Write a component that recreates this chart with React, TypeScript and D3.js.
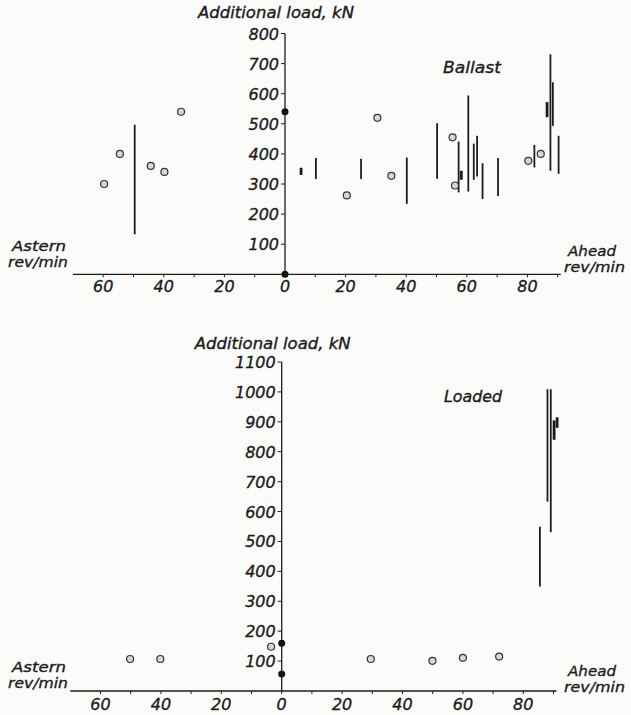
import React, { useEffect, useRef } from 'react';
import * as d3 from 'd3';

// rev/min (negative = astern), additional load kN
const ballastCircles = [
  [-59.7, 300], [-54.5, 400], [-44.3, 360], [-39.8, 340], [-34.3, 540],
  [20.4, 262], [30.5, 520], [35.1, 327], [55.3, 455], [56.1, 295],
  [80.3, 377], [84.4, 400],
];
const ballastBars = [
  [-49.6, 133, 497], [5.3, 330, 354], [10.2, 317, 386], [25.1, 317, 384],
  [40.2, 234, 388], [50.2, 317, 502], [57.3, 272, 441], [58.2, 314, 344],
  [60.5, 275, 594], [62.3, 314, 434], [63.4, 325, 460], [65.2, 250, 369],
  [70.3, 260, 386], [82.3, 355, 430], [86.5, 522, 572], [87.6, 344, 731],
  [88.4, 493, 638], [90.3, 334, 460],
];
const ballastDots = [[0, 0], [0, 540]];

const loadedCircles = [
  [-50.2, 107], [-40.2, 107], [-3.5, 148], [29.5, 107], [49.9, 101],
  [60, 111], [72, 115],
];
const loadedBars = [
  [85.5, 349, 549], [88, 633, 1009], [89.1, 531, 1009], [90.2, 840, 905], [91.2, 880, 915],
];
const loadedDots = [[0, 57], [0, 160]];

const xTickLabels = [-60, -40, -20, 0, 20, 40, 60, 80];

const panels = [
  {
    name: 'Ballast', circles: ballastCircles, bars: ballastBars, dots: ballastDots,
    x0: 285, pxPerRev: 3.03, yZero: 274.3, yTop: 33.5, yMax: 800,
    titleY: 18, nameX: 443, nameY: 73,
    asternY: 251, aheadY: 256, tickLabelY: 292,
  },
  {
    name: 'Loaded', circles: loadedCircles, bars: loadedBars, dots: loadedDots,
    x0: 281.7, pxPerRev: 3.02, yZero: 691, yTop: 362, yMax: 1100,
    titleY: 349, nameX: 444, nameY: 402,
    asternY: 672, aheadY: 676, tickLabelY: 710,
  },
];

const ink = '#1c1c1c';
const font = '"DejaVu Sans", sans-serif';

export default function App() {
  const ref = useRef<SVGSVGElement>(null);

  useEffect(() => {
    const svg = d3.select(ref.current);
    svg.selectAll('*').remove();

    svg.append('rect').attr('width', 631).attr('height', 715).attr('fill', '#fbfbfa');

    panels.forEach(p => {
      const x = d3.scaleLinear().domain([0, 90]).range([p.x0, p.x0 + 90 * p.pxPerRev]);
      const y = d3.scaleLinear().domain([0, p.yMax]).range([p.yZero, p.yTop]);
      const g = svg.append('g');

      const text = (tx: number, ty: number, s: string, size: number, anchor = 'start', len = 0) => {
        const t = g.append('text')
          .attr('x', tx).attr('y', ty)
          .attr('font-family', font).attr('font-style', 'italic')
          .attr('font-size', size).attr('fill', ink)
          .attr('stroke', ink).attr('stroke-width', 0.35)
          .attr('text-anchor', anchor)
          .text(s);
        if (len) t.attr('textLength', len).attr('lengthAdjust', 'spacingAndGlyphs');
        return t;
      };

      // x axis
      g.append('line')
        .attr('x1', x(-70)).attr('x2', x(91))
        .attr('y1', y(0)).attr('y2', y(0))
        .attr('stroke', ink).attr('stroke-width', 1.3);
      d3.range(-60, 91, 10).forEach(t => {
        g.append('line')
          .attr('x1', x(t)).attr('x2', x(t))
          .attr('y1', y(0)).attr('y2', y(0) + 3)
          .attr('stroke', ink).attr('stroke-width', 1);
      });
      xTickLabels.forEach(t => {
        text(x(t), p.tickLabelY, String(Math.abs(t)), 16, 'middle');
      });

      // y axis
      g.append('line')
        .attr('x1', x(0)).attr('x2', x(0))
        .attr('y1', y(0)).attr('y2', y(p.yMax))
        .attr('stroke', ink).attr('stroke-width', 1.3);
      d3.range(100, p.yMax + 1, 100).forEach(t => {
        g.append('line')
          .attr('x1', x(0) - 4).attr('x2', x(0))
          .attr('y1', y(t)).attr('y2', y(t))
          .attr('stroke', ink).attr('stroke-width', 1);
        text(x(0) - 6, y(t) + 6, String(t), 16, 'end');
      });

      text(x(0) - 9, p.titleY, 'Additional load, kN', 15, 'middle', 156);
      text(p.nameX, p.nameY, p.name, 15, 'start', 58);
      text(12, p.asternY, 'Astern', 14, 'start', 54);
      text(8, p.asternY + 16, 'rev/min', 14, 'start', 60);
      text(568, p.aheadY, 'Ahead', 14, 'start', 48);
      text(564, p.aheadY + 16, 'rev/min', 14, 'start', 61);

      // vertical range bars (short ones drawn heavier, as in the original)
      g.selectAll('line.bar').data(p.bars).enter().append('line')
        .attr('class', 'bar')
        .attr('x1', d => x(d[0])).attr('x2', d => x(d[0]))
        .attr('y1', d => y(d[1])).attr('y2', d => y(d[2]))
        .attr('stroke', ink).attr('stroke-width', d => (d[2] - d[1] < 66 ? 2.8 : 1.8));

      // open circles
      g.selectAll('circle.pt').data(p.circles).enter().append('circle')
        .attr('class', 'pt')
        .attr('cx', d => x(d[0])).attr('cy', d => y(d[1]))
        .attr('r', 3.5)
        .attr('fill', '#d6d6d6').attr('stroke', '#333').attr('stroke-width', 1.2);

      // filled dots on the axis
      g.selectAll('circle.dot').data(p.dots).enter().append('circle')
        .attr('class', 'dot')
        .attr('cx', d => x(d[0])).attr('cy', d => y(d[1]))
        .attr('r', 3.5).attr('fill', '#111');
    });
  }, []);

  return (
    <svg ref={ref} width={631} height={715}
      style={{ position: 'absolute', left: 0, top: 0 }} />
  );
}
